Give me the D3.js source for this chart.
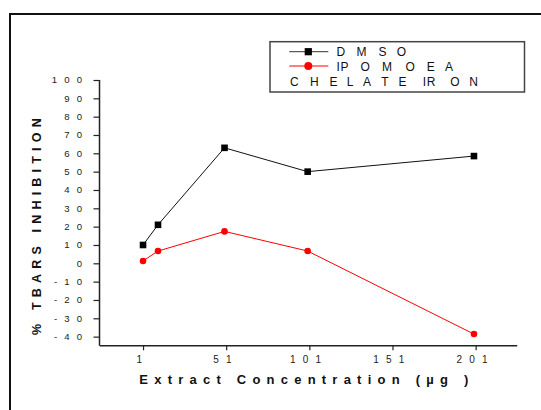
<!DOCTYPE html>
<html><head><meta charset="utf-8">
<script src="https://cdn.jsdelivr.net/npm/d3@7"></script>
<style>
html,body{margin:0;padding:0;background:#fff;}
svg{display:block;font-family:Arial,"Liberation Sans",sans-serif;}
</style></head>
<body>
<svg id="chart" width="541" height="410"></svg>
<script>
const concentrations = [1, 10, 50, 100, 200];
const dmsoValues = [10, 21, 63, 50, 58.5];
const ipomoeaValues = [1.3, 6.7, 17.4, 6.7, -38.6];
const seriesNames = ["DMSO", "IPOMOEA", "CHELATE IRON"];
const xMajorTicks = [1, 51, 101, 151, 201];
const xMinorTicks = [-24, 26, 76, 126, 176];
const yMajorTicks = [-40, -30, -20, -10, 0, 10, 20, 30, 40, 50, 60, 70, 80, 90, 100];
const yMinorTicks = [-45, -35, -25, -15, -5, 5, 15, 25, 35, 45, 55, 65, 75, 85, 95];
const xTitle = "Extract Concentration (µg )";
const yTitle = "% TBARS INHIBITION";

const svg = d3.select("#chart");
const FONT = "Arial,'Liberation Sans',sans-serif";

// Arial advance widths (em) for tick label glyphs
function adv(ch, size) {
  return (ch === "-" ? 0.333 : 0.556) * size;
}
// text with wide spacing, positioned char by char
function spacedText(parent, str, x, y, anchor, spacing, size, fill) {
  const chars = Array.from(str);
  const ws = chars.map(c => adv(c, size));
  const total = d3.sum(ws) + (chars.length - 1) * spacing;
  let sx = anchor === "end" ? x - total : anchor === "middle" ? x - total / 2 : x;
  const t = parent.append("text").attr("y", y).attr("font-size", size)
    .attr("font-family", FONT).attr("fill", fill);
  chars.forEach((c, i) => {
    t.append("tspan").attr("x", sx.toFixed(2)).text(c);
    sx += ws[i] + spacing;
  });
  return t;
}
function placedText(parent, str, xs, y, size, fill) {
  const t = parent.append("text").attr("y", y).attr("font-size", size)
    .attr("font-family", FONT).attr("fill", fill);
  Array.from(str).filter(c => c !== " ").forEach((c, i) => {
    t.append("tspan").attr("x", xs[i]).text(c);
  });
  return t;
}

// outer frame
svg.append("rect").attr("x", 10).attr("y", 14).attr("width", 700).attr("height", 600)
  .attr("fill", "none").attr("stroke", "#111").attr("stroke-width", 2);

const x = d3.scaleLinear().domain([-25, 226]).range([99.8, 517.2]);
const y = d3.scaleLinear().domain([-45, 100]).range([345.8, 80]);
const axisX = 99.5, axisY = 345.8;

// Y axis ticks
const gy = svg.append("g").attr("transform", `translate(${axisX},0)`);
gy.call(d3.axisLeft(y).tickValues(yMinorTicks).tickSize(3).tickFormat(""));
gy.call(d3.axisLeft(y).tickValues(yMajorTicks).tickSize(6).tickFormat(""));
gy.selectAll(".domain").remove();
gy.selectAll("line").attr("stroke", "#222").attr("stroke-width", 1.2);
svg.append("line").attr("x1", axisX).attr("x2", axisX).attr("y1", y(100)).attr("y2", axisY)
  .attr("stroke", "#222").attr("stroke-width", 1.5);
const yl = svg.append("g");
yMajorTicks.forEach(v => {
  spacedText(yl, String(v), 82.2, y(v) + 3.4, "end", 7.2, 9.6, "#222");
});

// X axis ticks
const gx = svg.append("g").attr("transform", `translate(0,${axisY})`);
gx.call(d3.axisBottom(x).tickValues(xMinorTicks).tickSize(3).tickFormat(""));
gx.call(d3.axisBottom(x).tickValues(xMajorTicks).tickSize(4.5).tickFormat(""));
gx.selectAll(".domain").remove();
gx.selectAll("line").attr("stroke", "#222").attr("stroke-width", 1.2);
svg.append("line").attr("x1", x(-25)).attr("x2", x(226)).attr("y1", axisY).attr("y2", axisY)
  .attr("stroke", "#222").attr("stroke-width", 1.5);
const xl = svg.append("g");
xMajorTicks.forEach(v => {
  spacedText(xl, String(v), x(v) - 3.7, 363.3, "middle", 7.2, 10, "#222");
});

// titles
svg.append("text").attr("x", 139.3).attr("y", 384).attr("font-size", 13).attr("font-weight", "bold")
  .attr("fill", "#111").attr("font-family", FONT)
  .attr("textLength", 329).attr("lengthAdjust", "spacing").text(xTitle);
svg.append("text").attr("transform", "translate(40.7,335) rotate(-90)").attr("x", 0).attr("y", 0)
  .attr("font-size", 12.5).attr("font-weight", "bold").attr("fill", "#111").attr("font-family", FONT)
  .attr("textLength", 216.7).attr("lengthAdjust", "spacing").text(yTitle);

// series
const line = d3.line().x((d, i) => x(concentrations[i])).y(d => y(d));
svg.append("path").datum(dmsoValues).attr("d", line).attr("fill", "none").attr("stroke", "#111").attr("stroke-width", 1);
svg.append("path").datum(ipomoeaValues).attr("d", line).attr("fill", "none").attr("stroke", "#ff0000").attr("stroke-width", 1);
const ms = 6.6;
svg.selectAll("rect.dm").data(dmsoValues).enter().append("rect").attr("class", "dm")
  .attr("x", (d, i) => x(concentrations[i]) - ms / 2).attr("y", d => y(d) - ms / 2)
  .attr("width", ms).attr("height", ms).attr("fill", "#000");
svg.selectAll("circle.ip").data(ipomoeaValues).enter().append("circle").attr("class", "ip")
  .attr("cx", (d, i) => x(concentrations[i])).attr("cy", d => y(d)).attr("r", 3.3).attr("fill", "#ff0000");

// legend
const lg = svg.append("g");
lg.append("rect").attr("x", 270).attr("y", 41.7).attr("width", 254.5).attr("height", 50.3)
  .attr("fill", "#fff").attr("stroke", "#444").attr("stroke-width", 1.5);
lg.append("line").attr("x1", 289.3).attr("x2", 328.3).attr("y1", 51.7).attr("y2", 51.7).attr("stroke", "#333").attr("stroke-width", 1);
lg.append("rect").attr("x", 308.3 - 3.6).attr("y", 51.7 - 3.6).attr("width", 7.2).attr("height", 7.2).attr("fill", "#000");
lg.append("line").attr("x1", 289.3).attr("x2", 328.3).attr("y1", 66).attr("y2", 66).attr("stroke", "#ff0000").attr("stroke-width", 1);
lg.append("circle").attr("cx", 308.3).attr("cy", 66).attr("r", 4).attr("fill", "#ff0000");
placedText(lg, seriesNames[0], [336.4, 356.5, 378.5, 396.8], 56, 12, "#111");
placedText(lg, seriesNames[1], [336.4, 340.4, 360.6, 382, 405.5, 426.8, 445.1], 70.6, 12, "#111");
placedText(lg, seriesNames[2], [289.9, 309.9, 329.5, 346.8, 363, 381.3, 398.6, 422.7, 426.7, 450.3, 469.3], 86.3, 12, "#111");
</script>
</body></html>
